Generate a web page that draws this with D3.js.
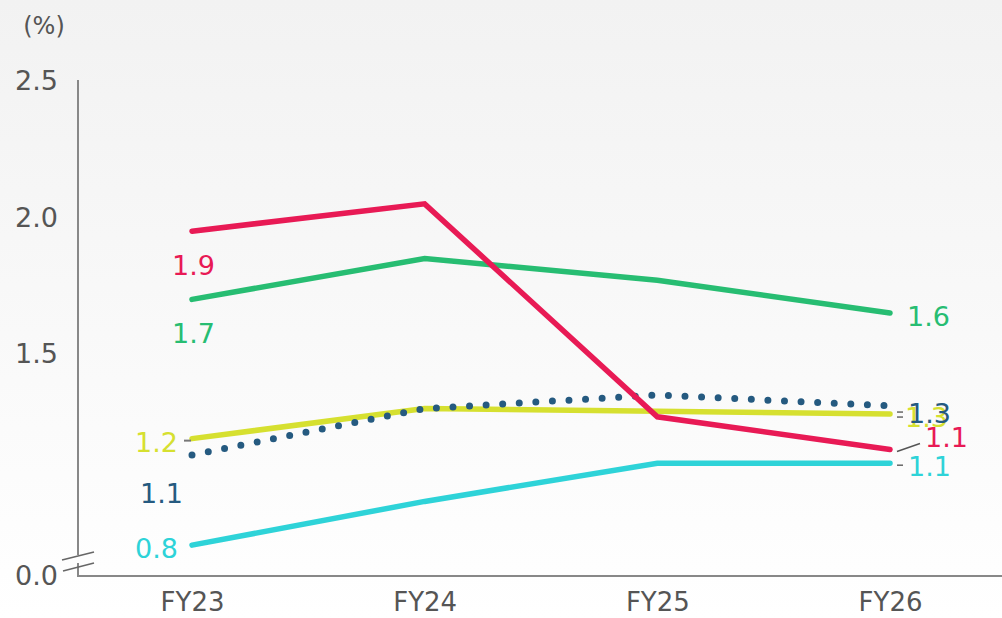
<!DOCTYPE html>
<html>
<head>
<meta charset="utf-8">
<script src="https://cdn.jsdelivr.net/npm/d3@7/dist/d3.min.js"></script>
<style>
  html, body { margin: 0; padding: 0; }
  body { width: 1002px; height: 618px; overflow: hidden; }
  text { font-family: "DejaVu Sans", sans-serif; }
</style>
</head>
<body>
<div id="chart"></div>
<script>
// datos
const categories = ["FY23", "FY24", "FY25", "FY26"];
const redValues    = [1.95, 2.05, 1.27, 1.15];
const greenValues  = [1.70, 1.85, 1.77, 1.65];
const yellowValues = [1.19, 1.30, 1.29, 1.28];
const navyValues   = [1.13, 1.30, 1.35, 1.31];
const cyanValues   = [0.80, 0.96, 1.10, 1.10];
const startLabels = ["1.9", "1.7", "1.2", "1.1", "0.8"];
const endLabels   = ["1.1", "1.6", "1.3", "1.3", "1.1"];
const yTicks = [1.5, 2.0, 2.5];

const W = 1002, H = 618;
const svg = d3.select("#chart").append("svg")
  .attr("width", W).attr("height", H);

// fondo degradado
const grad = svg.append("defs").append("linearGradient")
  .attr("id", "bg").attr("x1", 0).attr("y1", 0).attr("x2", 0).attr("y2", 1);
grad.append("stop").attr("offset", "0%").attr("stop-color", "#f2f2f2");
grad.append("stop").attr("offset", "100%").attr("stop-color", "#ffffff");
svg.append("rect").attr("width", W).attr("height", H).attr("fill", "url(#bg)");

const x = d3.scalePoint().domain(categories).range([192, 890]);
const y = d3.scaleLinear().domain([1.5, 2.5]).range([354, 81]);
const y0 = 576; // posicion del 0.0 (eje cortado)

const axisColor = "#888";
const textGray = "#555";

// eje Y (cortado)
svg.append("line").attr("x1", 78).attr("x2", 78).attr("y1", 80).attr("y2", 555)
  .attr("stroke", axisColor).attr("stroke-width", 2);
svg.append("line").attr("x1", 78).attr("x2", 78).attr("y1", 563).attr("y2", y0)
  .attr("stroke", axisColor).attr("stroke-width", 2);
svg.append("line").attr("x1", 77).attr("x2", 1002).attr("y1", y0).attr("y2", y0)
  .attr("stroke", axisColor).attr("stroke-width", 2);
// marcas de corte
[[62, 560, 94, 552], [63, 571, 94, 563]].forEach(d => {
  svg.append("line").attr("x1", d[0]).attr("y1", d[1]).attr("x2", d[2]).attr("y2", d[3])
    .attr("stroke", "#666").attr("stroke-width", 1.5);
});

const yAxis = svg.append("g").attr("transform", "translate(58,0)")
  .call(d3.axisLeft(y).tickValues(yTicks).tickSize(0).tickPadding(0).tickFormat(d3.format(".1f")));
yAxis.select(".domain").remove();
yAxis.selectAll("text").attr("font-size", 27).attr("fill", textGray)
  .attr("font-family", "DejaVu Sans, sans-serif");
svg.append("text").attr("x", 58).attr("y", y0).attr("dy", "0.32em")
  .attr("text-anchor", "end").attr("font-size", 27).attr("fill", textGray).text("0.0");

svg.append("text").attr("x", 44).attr("y", 34).attr("text-anchor", "middle")
  .attr("font-size", 24).attr("fill", textGray).text("(%)");

// eje X
const xAxis = svg.append("g").attr("transform", `translate(0,${y0})`)
  .call(d3.axisBottom(x).tickSize(0).tickPadding(17));
xAxis.select(".domain").remove();
xAxis.selectAll("text").attr("font-size", 26).attr("fill", textGray)
  .attr("font-family", "DejaVu Sans, sans-serif");

const line = d3.line().x((d, i) => x(categories[i])).y(d => y(d));

const series = [
  { name: "green",  values: greenValues,  color: "#27bd72" },
  { name: "yellow", values: yellowValues, color: "#d6e030" },
  { name: "cyan",   values: cyanValues,   color: "#2ed3d8" },
  { name: "navy",   values: navyValues,   color: "#255a80", dotted: true },
  { name: "red",    values: redValues,    color: "#e81a55" }
];

series.forEach(s => {
  const p = svg.append("path").datum(s.values).attr("d", line)
    .attr("fill", "none").attr("stroke", s.color);
  if (s.dotted) {
    p.attr("stroke-width", 7).attr("stroke-linecap", "round")
      .attr("stroke-dasharray", "0 16.6");
  } else {
    p.attr("stroke-width", 5.5).attr("stroke-linecap", "round")
      .attr("stroke-linejoin", "miter");
  }
});

// etiquetas
const lbl = (xx, yy, txt, col, anchor) =>
  svg.append("text").attr("x", xx).attr("y", yy).attr("text-anchor", anchor || "start")
    .attr("font-size", 27).attr("fill", col).text(txt);

// izquierda
lbl(x("FY23") + 23, y(redValues[0]) + 44, startLabels[0], "#e81a55", "end");
lbl(x("FY23") + 23, y(greenValues[0]) + 44, startLabels[1], "#27bd72", "end");
lbl(178, y(yellowValues[0]) + 13, startLabels[2], "#d6e030", "end");
lbl(183, y(navyValues[0]) + 48, startLabels[3], "#255a80", "end");
lbl(178, y(cyanValues[0]) + 13, startLabels[4], "#2ed3d8", "end");
svg.append("line").attr("x1", 184).attr("x2", 191)
  .attr("y1", y(yellowValues[0]) + 2).attr("y2", y(yellowValues[0]) + 2)
  .attr("stroke", "#777").attr("stroke-width", 2);

// derecha
const xe = x("FY26");
lbl(xe + 17, y(greenValues[3]) + 13, endLabels[1], "#27bd72");
lbl(xe + 15, y(yellowValues[3]) + 13, endLabels[2], "#d6e030");
lbl(xe + 18, y(yellowValues[3]) + 9, endLabels[3], "#255a80");
lbl(xe + 35, y(redValues[3]) - 3, endLabels[0], "#e81a55");
lbl(xe + 18, y(cyanValues[3]) + 13, endLabels[4], "#2ed3d8");
// marcas guia
[[y(yellowValues[3]) - 2], [y(yellowValues[3]) + 3], [y(cyanValues[3]) + 2]].forEach(d => {
  svg.append("line").attr("x1", xe + 7).attr("x2", xe + 13).attr("y1", d[0]).attr("y2", d[0])
    .attr("stroke", "#666").attr("stroke-width", 1.5);
});
svg.append("line").attr("x1", xe + 7).attr("y1", y(redValues[3]) + 2)
  .attr("x2", xe + 30).attr("y2", y(redValues[3]) - 6)
  .attr("stroke", "#555").attr("stroke-width", 1.5);
</script>
</body>
</html>
